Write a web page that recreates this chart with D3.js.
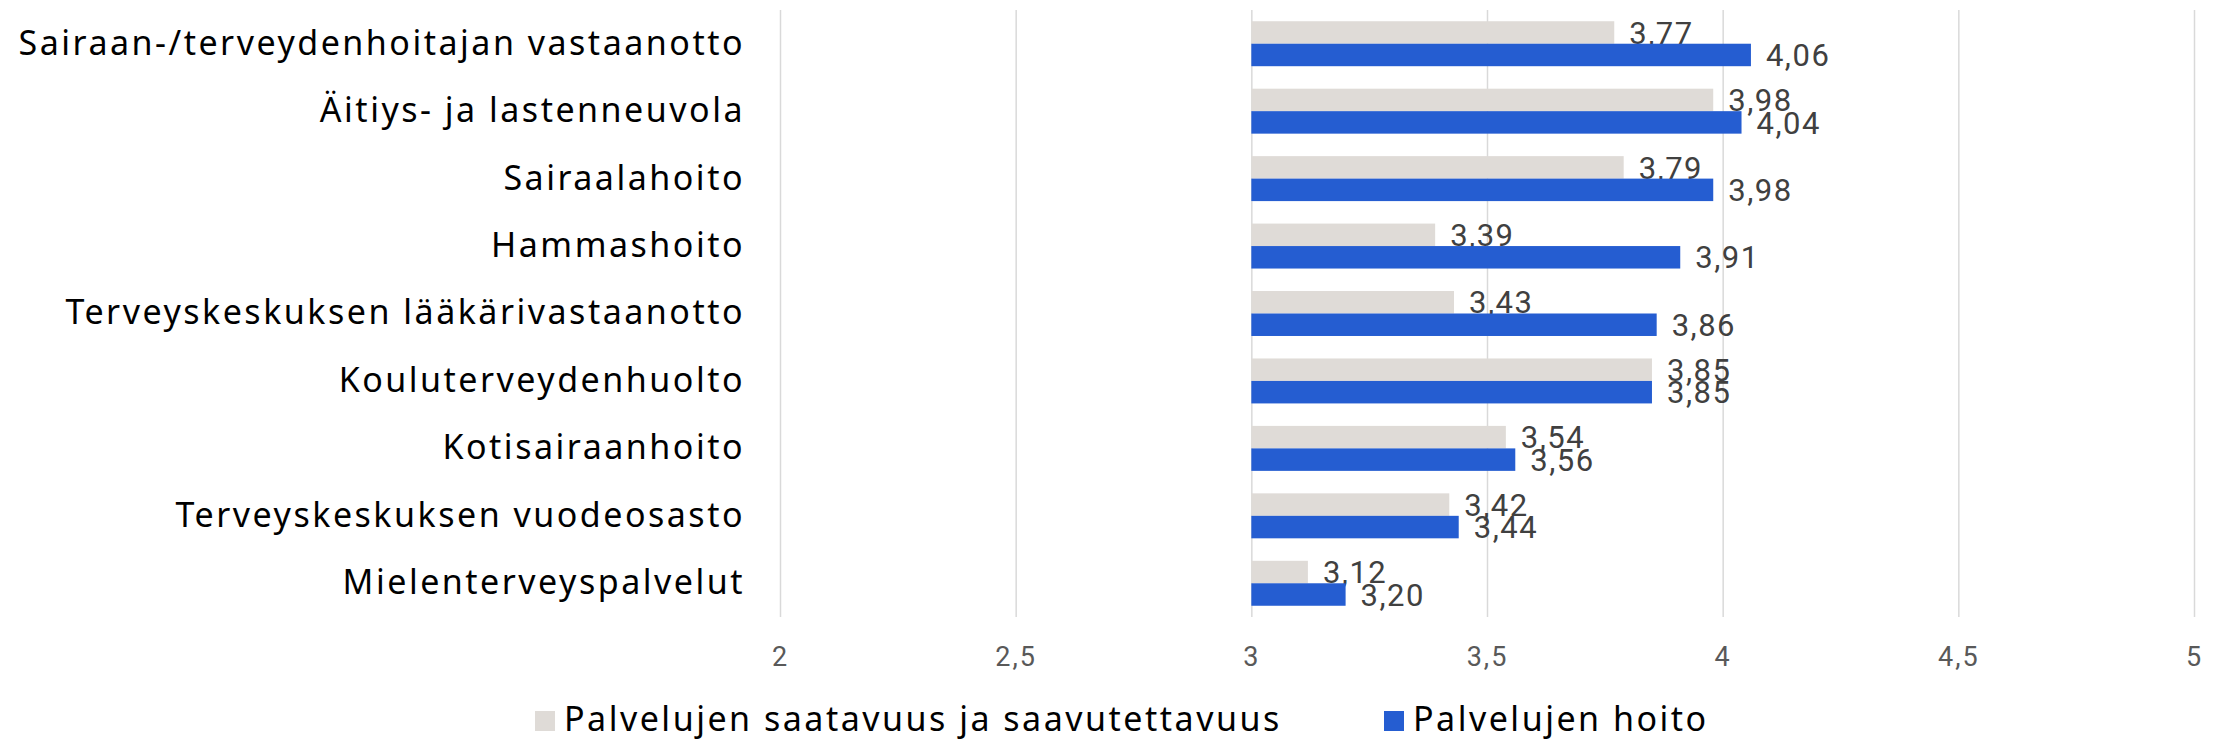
<!DOCTYPE html>
<html>
<head>
<meta charset="utf-8">
<script src="https://cdn.jsdelivr.net/npm/d3@7"></script>
<style>
  body { margin: 0; background: #fff; }
</style>
</head>
<body>
<div id="vis-holder"></div>
<script>
// Data
const categories = [
  "Sairaan-/terveydenhoitajan vastaanotto",
  "Äitiys- ja lastenneuvola",
  "Sairaalahoito",
  "Hammashoito",
  "Terveyskeskuksen lääkärivastaanotto",
  "Kouluterveydenhuolto",
  "Kotisairaanhoito",
  "Terveyskeskuksen vuodeosasto",
  "Mielenterveyspalvelut"
];
const seriesNames = ["Palvelujen saatavuus ja saavutettavuus", "Palvelujen hoito"];
const saatavuus = [3.77, 3.98, 3.79, 3.39, 3.43, 3.85, 3.54, 3.42, 3.12];
const hoito = [4.06, 4.04, 3.98, 3.91, 3.86, 3.85, 3.56, 3.44, 3.20];
const xTicks = [2, 2.5, 3, 3.5, 4, 4.5, 5];

const colors = ["#dfdbd7", "#255dd1"];

// Set dimensions
const width = 2216;
const height = 740;
const margin = { top: 10, right: 22, bottom: 123, left: 780 };

const svg = d3.select("#vis-holder")
  .append("svg")
  .attr("width", width)
  .attr("height", height);

const fmt = (v, d) => v.toFixed(d).replace(".", ",");

// Scales
const x = d3.scaleLinear()
  .domain([2, 5])
  .range([margin.left, width - margin.right]);

const y = d3.scaleBand()
  .domain(categories)
  .range([margin.top, height - margin.bottom])
  .paddingInner(1 / 3)
  .paddingOuter(1 / 6);

const ySub = d3.scaleBand()
  .domain([0, 1])
  .range([0, y.bandwidth()]);

// Gridlines
svg.append("g")
  .attr("transform", `translate(0,${height - margin.bottom})`)
  .call(d3.axisBottom(x).tickValues(xTicks).tickSize(-(height - margin.top - margin.bottom)).tickFormat(""))
  .call((g) => g.select(".domain").remove())
  .call((g) => g.selectAll("line").attr("stroke", "#d9d9d9").attr("stroke-width", 1.5));

// x tick labels
svg.append("g")
  .attr("transform", `translate(0,${height - margin.bottom})`)
  .call(d3.axisBottom(x).tickValues(xTicks).tickSize(0).tickFormat((d) => String(d).replace(".", ",")))
  .call((g) => g.select(".domain").remove())
  .call((g) => g.selectAll("text")
    .attr("y", 49)
    .attr("dy", null)
    .attr("fill", "#595959")
    .attr("font-family", "Roboto, sans-serif")
    .attr("font-size", "27px")
    .attr("letter-spacing", "2px"));

// Category labels
svg.append("g")
  .attr("transform", `translate(${margin.left},0)`)
  .call(d3.axisLeft(y).tickSize(0).tickPadding(35))
  .call((g) => g.select(".domain").remove())
  .call((g) => g.selectAll("text")
    .attr("fill", "#000")
    .attr("font-family", "'Noto Sans', sans-serif")
    .attr("font-size", "34px")
    .attr("letter-spacing", "2.5px"));

// Bars: start at 3 as in the original
const series = [saatavuus, hoito];
const base = 3;

series.forEach((vals, s) => {
  const rows = categories.map((c, i) => ({ cat: c, value: vals[i] }));

  svg.append("g")
    .selectAll("rect")
    .data(rows)
    .enter()
    .append("rect")
    .attr("x", x(base))
    .attr("y", (d) => y(d.cat) + ySub(s))
    .attr("width", (d) => x(d.value) - x(base))
    .attr("height", ySub.bandwidth())
    .attr("fill", colors[s]);

  svg.append("g")
    .selectAll("text")
    .data(rows)
    .enter()
    .append("text")
    .attr("x", (d) => x(d.value) + 15)
    .attr("y", (d) => y(d.cat) + ySub(s) + ySub.bandwidth() / 2)
    .attr("dy", "0.36em")
    .attr("fill", "#404040")
    .attr("font-family", "Roboto, sans-serif")
    .attr("font-size", "31px")
    .attr("letter-spacing", "1.5px")
    .text((d) => fmt(d.value, 2));
});

// Legend
const legendX = [535, 1384];
const legend = svg.append("g");
seriesNames.forEach((name, s) => {
  legend.append("rect")
    .attr("x", legendX[s])
    .attr("y", 711)
    .attr("width", 20)
    .attr("height", 20)
    .attr("fill", colors[s]);
  legend.append("text")
    .attr("x", legendX[s] + 29)
    .attr("y", 731)
    .attr("fill", "#000")
    .attr("font-family", "'Noto Sans', sans-serif")
    .attr("font-size", "34px")
    .attr("letter-spacing", "2.5px")
    .text(name);
});
</script>
</body>
</html>
